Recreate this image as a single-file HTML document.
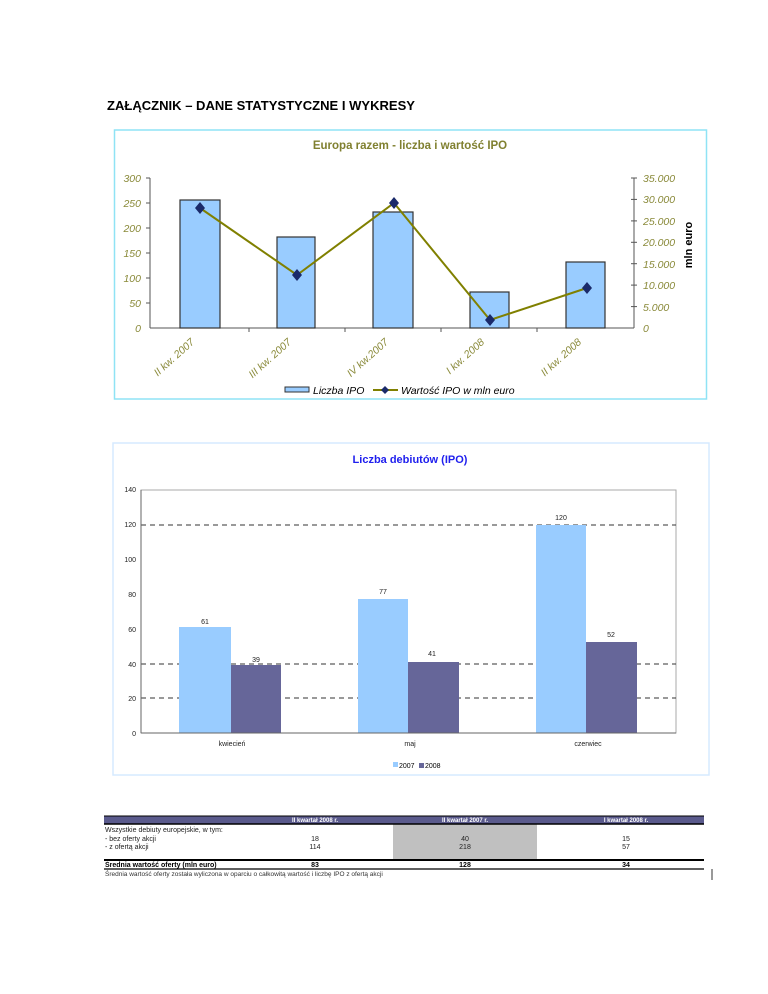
<!DOCTYPE html>
<html><head><meta charset="utf-8"><style>
html,body{margin:0;padding:0;background:#fff}
svg{display:block}
text{font-family:"Liberation Sans",sans-serif}
</style></head><body>
<svg width="768" height="994" viewBox="0 0 768 994" xmlns="http://www.w3.org/2000/svg">
<text x="107" y="110" font-size="13" font-weight="bold" textLength="308" lengthAdjust="spacingAndGlyphs">ZAŁĄCZNIK – DANE STATYSTYCZNE I WYKRESY</text>

<!-- Chart 1 -->
<rect x="114.5" y="130" width="592" height="269" fill="#fff" stroke="#8fe3f5" stroke-width="1.5"/>
<text x="410" y="149" font-size="11.5" font-weight="bold" fill="#808030" text-anchor="middle">Europa razem - liczba i wartość IPO</text>
<g font-size="10.5" font-style="italic" fill="#8a8a3a" text-anchor="end">
<text x="141" y="182">300</text><text x="141" y="207">250</text><text x="141" y="232">200</text><text x="141" y="257">150</text><text x="141" y="282">100</text><text x="141" y="307">50</text><text x="141" y="332">0</text>
</g>
<g font-size="10.5" font-style="italic" fill="#8a8a3a">
<text x="643" y="182">35.000</text><text x="643" y="203">30.000</text><text x="643" y="225">25.000</text><text x="643" y="246">20.000</text><text x="643" y="268">15.000</text><text x="643" y="289">10.000</text><text x="643" y="311">5.000</text><text x="643" y="332">0</text>
</g>
<text transform="translate(692,245) rotate(-90)" font-size="11" font-weight="bold" text-anchor="middle">mln euro</text>
<g stroke="#555" stroke-width="1">
<line x1="150" y1="178" x2="150" y2="328"/>
<line x1="634" y1="178" x2="634" y2="328"/>
<line x1="150" y1="328" x2="634" y2="328"/>
<line x1="146" y1="178" x2="150" y2="178"/><line x1="146" y1="203" x2="150" y2="203"/><line x1="146" y1="228" x2="150" y2="228"/><line x1="146" y1="253" x2="150" y2="253"/><line x1="146" y1="278" x2="150" y2="278"/><line x1="146" y1="303" x2="150" y2="303"/>
<line x1="631" y1="178" x2="637" y2="178"/><line x1="631" y1="199.4" x2="637" y2="199.4"/><line x1="631" y1="220.9" x2="637" y2="220.9"/><line x1="631" y1="242.3" x2="637" y2="242.3"/><line x1="631" y1="263.7" x2="637" y2="263.7"/><line x1="631" y1="285.1" x2="637" y2="285.1"/><line x1="631" y1="306.6" x2="637" y2="306.6"/>
<line x1="249" y1="328" x2="249" y2="332"/><line x1="345" y1="328" x2="345" y2="332"/><line x1="441" y1="328" x2="441" y2="332"/><line x1="537" y1="328" x2="537" y2="332"/>
</g>
<g fill="#99ccff" stroke="#333" stroke-width="1.2">
<rect x="180" y="200" width="40" height="128"/>
<rect x="277" y="237" width="38" height="91"/>
<rect x="373" y="212" width="40" height="116"/>
<rect x="470" y="292" width="39" height="36"/>
<rect x="566" y="262" width="39" height="66"/>
</g>
<polyline points="200,208 297,275 394,203 490,320 587,288" fill="none" stroke="#808000" stroke-width="2"/>
<g fill="#1a2a6a">
<path d="M200,202 l5,6 l-5,6 l-5,-6z"/><path d="M297,269 l5,6 l-5,6 l-5,-6z"/><path d="M394,197 l5,6 l-5,6 l-5,-6z"/><path d="M490,314 l5,6 l-5,6 l-5,-6z"/><path d="M587,282 l5,6 l-5,6 l-5,-6z"/>
</g>
<g font-size="10.5" font-style="italic" fill="#8a8a3a" text-anchor="end">
<text transform="translate(195,343) rotate(-42)">II kw. 2007</text>
<text transform="translate(292,343) rotate(-42)">III kw. 2007</text>
<text transform="translate(389,343) rotate(-42)">IV kw.2007</text>
<text transform="translate(485,343) rotate(-42)">I kw. 2008</text>
<text transform="translate(582,343) rotate(-42)">II kw. 2008</text>
</g>
<rect x="285" y="387" width="24" height="5" fill="#99ccff" stroke="#333"/>
<text x="313" y="394" font-size="10.5" font-style="italic">Liczba IPO</text>
<line x1="373" y1="390" x2="398" y2="390" stroke="#808000" stroke-width="2"/>
<path d="M385,386 l4,4 l-4,4 l-4,-4z" fill="#1a2a6a"/>
<text x="401" y="394" font-size="10.5" font-style="italic">Wartość IPO w mln euro</text>

<!-- Chart 2 -->
<rect x="113" y="443" width="596" height="332" fill="#fff" stroke="#d6eaff" stroke-width="1.5"/>
<text x="410" y="463" font-size="11" font-weight="bold" fill="#2020ee" text-anchor="middle">Liczba debiutów (IPO)</text>
<rect x="141" y="490" width="535" height="243" fill="#fff" stroke="#aaa"/>
<g stroke="#333" stroke-dasharray="5,4" stroke-width="1">
<line x1="141" y1="525" x2="676" y2="525"/><line x1="141" y1="664" x2="676" y2="664"/><line x1="141" y1="698" x2="676" y2="698"/>
</g>
<g fill="#99ccff"><rect x="179" y="627" width="52" height="106"/><rect x="358" y="599" width="50" height="134"/><rect x="536" y="525" width="50" height="208"/></g>
<g fill="#666699"><rect x="231" y="665" width="50" height="68"/><rect x="408" y="662" width="51" height="71"/><rect x="586" y="642" width="51" height="91"/></g>
<line x1="141" y1="733" x2="676" y2="733" stroke="#666"/>
<line x1="141" y1="490" x2="141" y2="733" stroke="#666"/>
<g font-size="7" fill="#222" text-anchor="end">
<text x="136" y="492">140</text><text x="136" y="527">120</text><text x="136" y="562">100</text><text x="136" y="597">80</text><text x="136" y="632">60</text><text x="136" y="667">40</text><text x="136" y="701">20</text><text x="136" y="736">0</text>
</g>
<g font-size="7" fill="#222" text-anchor="middle">
<text x="205" y="624">61</text><text x="256" y="662">39</text><text x="383" y="594">77</text><text x="432" y="656">41</text><text x="561" y="520">120</text><text x="611" y="637">52</text>
<text x="232" y="746">kwiecień</text><text x="410" y="746">maj</text><text x="588" y="746">czerwiec</text>
</g>
<rect x="393" y="762" width="5" height="5" fill="#99ccff"/><text x="399" y="768" font-size="7">2007</text>
<rect x="419" y="763" width="5" height="5" fill="#666699"/><text x="425" y="768" font-size="7">2008</text>

<!-- Table -->
<rect x="393" y="824" width="144" height="36" fill="#c0c0c0"/>
<rect x="104" y="816" width="600" height="8" fill="#5a5a8c"/>
<line x1="104" y1="816" x2="704" y2="816" stroke="#000"/>
<g font-size="6" fill="#fff" font-weight="bold" text-anchor="middle">
<text x="315" y="822">II kwartał 2008 r.</text><text x="465" y="822">II kwartał 2007 r.</text><text x="626" y="822">I kwartał 2008 r.</text>
</g>
<line x1="104" y1="824" x2="704" y2="824" stroke="#000" stroke-width="1.5"/>
<g font-size="7" fill="#222">
<text x="105" y="832">Wszystkie debiuty europejskie, w tym:</text>
<text x="105" y="841"> - bez oferty akcji</text>
<text x="105" y="849"> - z ofertą akcji</text>
</g>
<g font-size="7" fill="#222" text-anchor="middle">
<text x="315" y="841">18</text><text x="315" y="849">114</text>
<text x="465" y="841">40</text><text x="465" y="849">218</text>
<text x="626" y="841">15</text><text x="626" y="849">57</text>
</g>
<line x1="104" y1="860" x2="704" y2="860" stroke="#000" stroke-width="2"/>
<g font-size="7" font-weight="bold">
<text x="105" y="867">Średnia wartość oferty (mln euro)</text>
<text x="315" y="867" text-anchor="middle">83</text><text x="465" y="867" text-anchor="middle">128</text><text x="626" y="867" text-anchor="middle">34</text>
</g>
<line x1="104" y1="869" x2="704" y2="869" stroke="#000" stroke-width="1.2"/>
<text x="105" y="876" font-size="6.5" fill="#333">Średnia wartość oferty została wyliczona w oparciu o całkowitą wartość i liczbę IPO z ofertą akcji</text>
<line x1="712" y1="869" x2="712" y2="880" stroke="#333"/>
</svg>
</body></html>
